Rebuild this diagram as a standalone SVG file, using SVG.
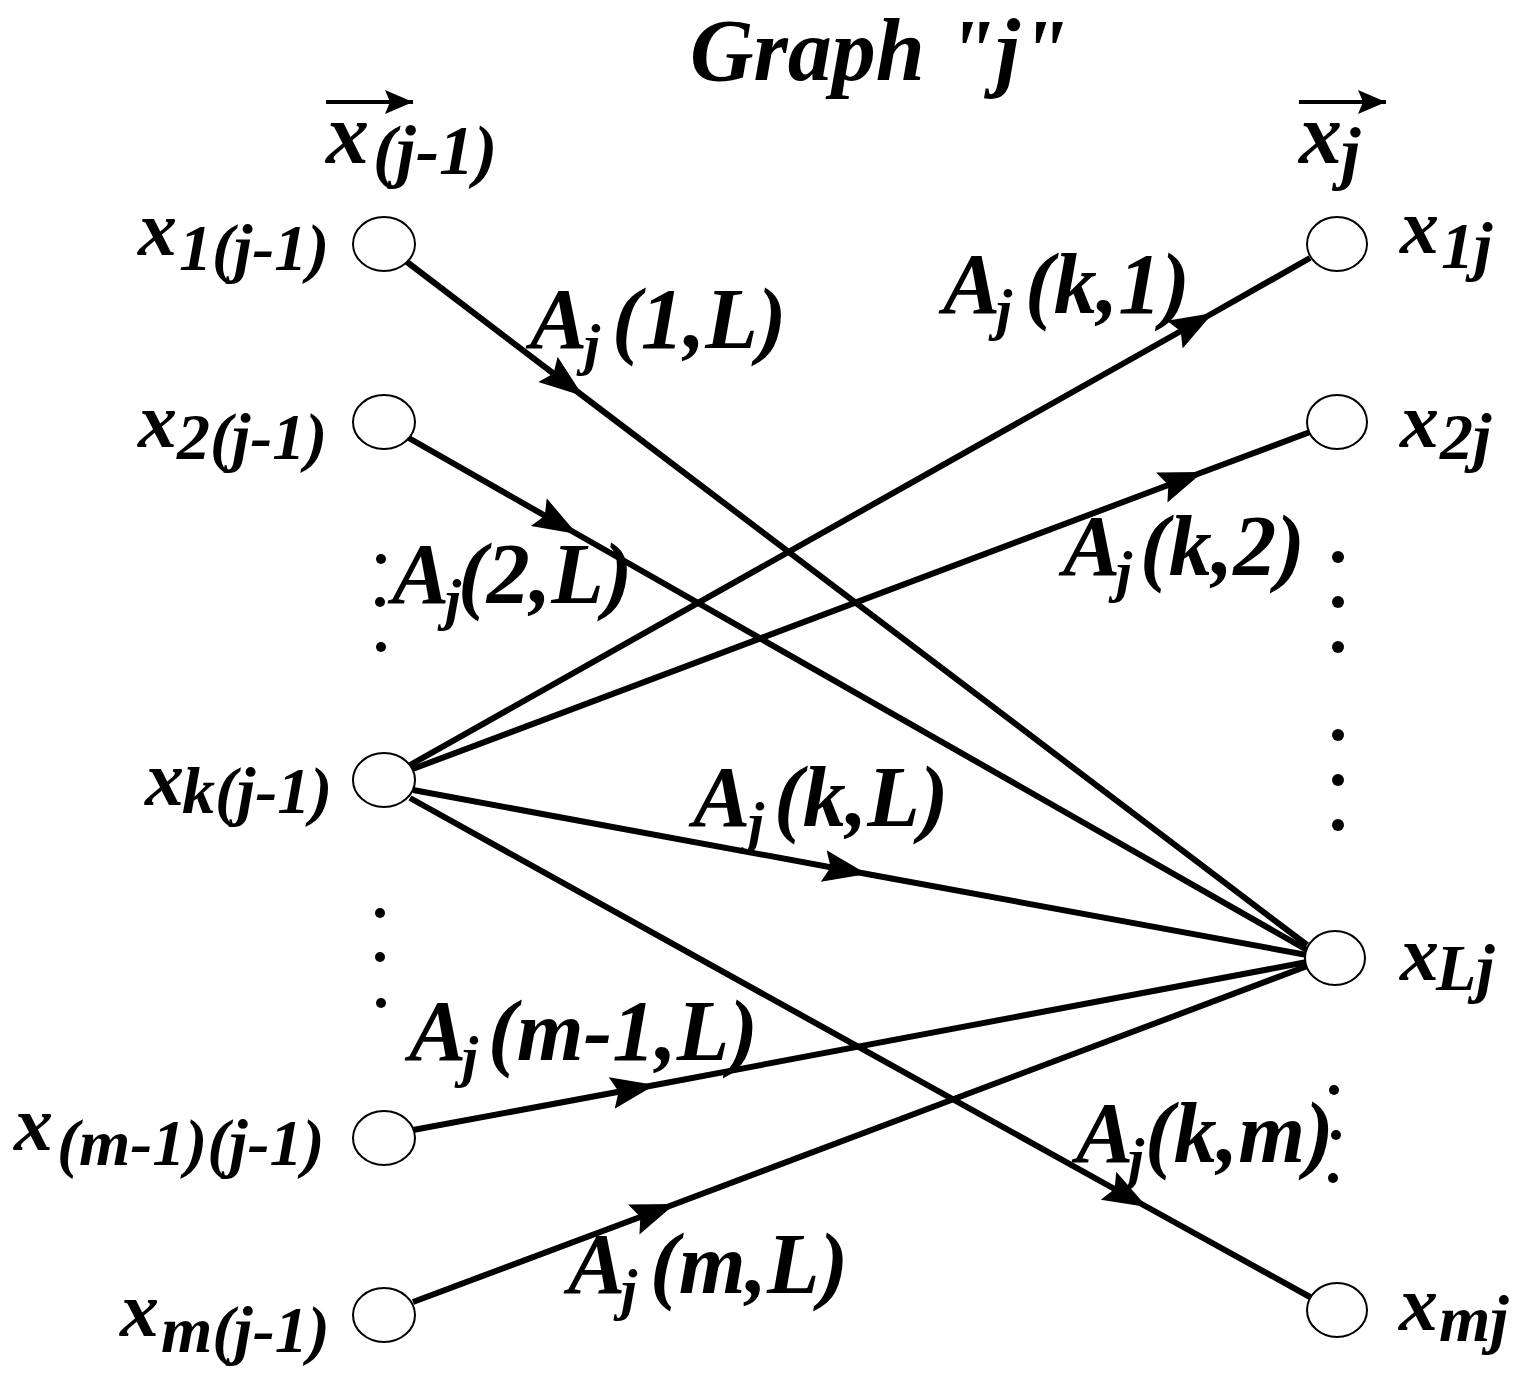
<svg xmlns="http://www.w3.org/2000/svg" width="1535" height="1379" viewBox="0 0 1535 1379">
<style>
text{font-family:"Liberation Serif","Times New Roman",serif;font-weight:bold;font-style:italic;fill:#000}
.node{fill:#fff;stroke:#000;stroke-width:2}
.edge{fill:none;stroke:#000;stroke-width:6;marker-mid:url(#arr)}
.dot{fill:#000}
.t{font-size:88px}
.nx{font-size:78px}
.ns{font-size:66px}
.ea{font-size:86px}
.ej{font-size:58px}
</style>
<defs>
<marker id="arr" markerUnits="userSpaceOnUse" markerWidth="48" markerHeight="36" viewBox="0 -18 48 36" refX="44" refY="0" orient="auto">
<path d="M0,-16 L44,0 L0,16 L7,0 z" fill="#000"/>
</marker>
<marker id="varr" markerUnits="userSpaceOnUse" markerWidth="30" markerHeight="28" viewBox="0 -14 30 28" refX="28" refY="0" orient="auto">
<path d="M0,-12 L28,0 L0,12 L5,0 z" fill="#000"/>
</marker>
</defs>
<rect width="1535" height="1379" fill="#fff"/>

<text class="t" x="690" y="80">Graph "j"</text>

<g id="vec-left">
<line x1="326" y1="102" x2="413" y2="102" stroke="#000" stroke-width="4" marker-end="url(#varr)"/>
<text><tspan x="326" y="163" style="font-size:86px">x</tspan><tspan x="373" y="174" style="font-size:70px">(j-1)</tspan></text>
</g>
<g id="vec-right">
<line x1="1299" y1="102" x2="1386" y2="102" stroke="#000" stroke-width="4" marker-end="url(#varr)"/>
<text><tspan x="1299" y="163" style="font-size:86px">x</tspan><tspan x="1341" y="176" style="font-size:70px">j</tspan></text>
</g>

<g id="connectors">
<path class="edge" d="M407,262 L583,396 L1307,945"/>
<path class="edge" d="M407,437 L577,534 L1307,950"/>
<path class="edge" d="M410,765 L1213,313 L1310,258"/>
<path class="edge" d="M410,770 L1203,472 L1310,432"/>
<path class="edge" d="M413,790 L867,874 L1307,955"/>
<path class="edge" d="M410,798 L1147,1207 L1310,1297"/>
<path class="edge" d="M413,1130 L655,1085 L1307,962"/>
<path class="edge" d="M413,1302 L675,1204 L1310,965"/>
</g>

<g id="node-x1-prev">
<ellipse class="node" cx="384" cy="244" rx="31" ry="27"/>
<text><tspan class="nx" x="138" y="255">x</tspan><tspan class="ns" x="179" y="270">1(j-1)</tspan></text>
</g>
<g id="node-x2-prev">
<ellipse class="node" cx="384" cy="422" rx="31" ry="27"/>
<text><tspan class="nx" x="138" y="447">x</tspan><tspan class="ns" x="177" y="459">2(j-1)</tspan></text>
</g>
<g id="node-xk-prev">
<ellipse class="node" cx="384" cy="780" rx="31" ry="27"/>
<text><tspan class="nx" x="145" y="805">x</tspan><tspan class="ns" x="182" y="813">k(j-1)</tspan></text>
</g>
<g id="node-xm1-prev">
<ellipse class="node" cx="384" cy="1138" rx="31" ry="27"/>
<text><tspan class="nx" x="14" y="1150">x</tspan><tspan class="ns" x="57" y="1165">(m-1)(j-1)</tspan></text>
</g>
<g id="node-xm-prev">
<ellipse class="node" cx="384" cy="1315" rx="31" ry="27"/>
<text><tspan class="nx" x="120" y="1336">x</tspan><tspan class="ns" x="161" y="1352">m(j-1)</tspan></text>
</g>

<g id="node-x1j">
<ellipse class="node" cx="1337" cy="244" rx="30" ry="27"/>
<text><tspan class="nx" x="1400" y="253">x</tspan><tspan class="ns" x="1441" y="268">1j</tspan></text>
</g>
<g id="node-x2j">
<ellipse class="node" cx="1337" cy="422" rx="30" ry="27"/>
<text><tspan class="nx" x="1400" y="447">x</tspan><tspan class="ns" x="1440" y="459">2j</tspan></text>
</g>
<g id="node-xLj">
<ellipse class="node" cx="1335" cy="958" rx="30" ry="27"/>
<text><tspan class="nx" x="1400" y="980">x</tspan><tspan class="ns" x="1436" y="990">Lj</tspan></text>
</g>
<g id="node-xmj">
<ellipse class="node" cx="1337" cy="1310" rx="30" ry="27"/>
<text><tspan class="nx" x="1399" y="1330">x</tspan><tspan class="ns" x="1439" y="1341">mj</tspan></text>
</g>

<g id="edge-labels">
<text><tspan class="ea" x="530" y="348">A</tspan><tspan class="ej" x="584" y="364">j</tspan><tspan class="ea" x="612" y="348">(1,L)</tspan></text>
<text><tspan class="ea" x="943" y="313">A</tspan><tspan class="ej" x="996" y="329">j</tspan><tspan class="ea" x="1025" y="313">(k,1)</tspan></text>
<text><tspan class="ea" x="392" y="603">A</tspan><tspan class="ej" x="445" y="619">j</tspan><tspan class="ea" x="458" y="603">(2,L)</tspan></text>
<text><tspan class="ea" x="1063" y="575">A</tspan><tspan class="ej" x="1116" y="591">j</tspan><tspan class="ea" x="1140" y="575">(k,2)</tspan></text>
<text><tspan class="ea" x="693" y="826">A</tspan><tspan class="ej" x="748" y="842">j</tspan><tspan class="ea" x="774" y="826">(k,L)</tspan></text>
<text><tspan class="ea" x="409" y="1060">A</tspan><tspan class="ej" x="462" y="1076">j</tspan><tspan class="ea" x="488" y="1060">(m-1,L)</tspan></text>
<text><tspan class="ea" x="1076" y="1162">A</tspan><tspan class="ej" x="1128" y="1178">j</tspan><tspan class="ea" x="1145" y="1162">(k,m)</tspan></text>
<text><tspan class="ea" x="568" y="1293">A</tspan><tspan class="ej" x="621" y="1309">j</tspan><tspan class="ea" x="650" y="1293">(m,L)</tspan></text>
</g>

<g id="ellipsis-dots">
<circle class="dot" cx="381" cy="559" r="5"/>
<circle class="dot" cx="380" cy="602" r="5"/>
<circle class="dot" cx="381" cy="647" r="5"/>
<circle class="dot" cx="380" cy="913" r="5"/>
<circle class="dot" cx="380" cy="957" r="5"/>
<circle class="dot" cx="381" cy="1003" r="5"/>
<circle class="dot" cx="1338" cy="557" r="6"/>
<circle class="dot" cx="1338" cy="602" r="6"/>
<circle class="dot" cx="1338" cy="647" r="6"/>
<circle class="dot" cx="1338" cy="735" r="6"/>
<circle class="dot" cx="1338" cy="780" r="6"/>
<circle class="dot" cx="1338" cy="825" r="6"/>
<circle class="dot" cx="1334" cy="1090" r="5"/>
<circle class="dot" cx="1336" cy="1135" r="5"/>
<circle class="dot" cx="1333" cy="1178" r="5"/>
</g>
</svg>
